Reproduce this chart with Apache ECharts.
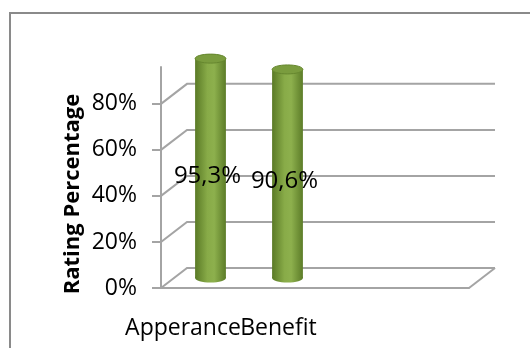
<!DOCTYPE html>
<html>
<head>
<meta charset="utf-8">
<script src="https://cdn.jsdelivr.net/npm/echarts@6/dist/echarts.min.js"></script>
<style>
  html, body { margin: 0; padding: 0; background: #fff; }
  #chart { width: 530px; height: 348px; }
</style>
</head>
<body>
<div id="chart"></div>
<script>
// Rating per aspect, drawn as 3D-style cylinders
const categories = ['Apperance', 'Benefit', '', ''];
const ratings = [95.3, 90.6];
const yTicks = [0, 20, 40, 60, 80];
const yTickLabels = ['0%', '20%', '40%', '60%', '80%'];
const yTitle = 'Rating Percentage';

const FONT = '"Open Sans", "Noto Sans", sans-serif';
const LINE = '#a4a4a4';
const DEPTH = [26, -20];        // back wall offset from the front plane
const MID = [11, -10];          // where the cylinders stand inside the floor

const chart = echarts.init(document.getElementById('chart'), null, { renderer: 'canvas' });

function fmt(v) {
  return v.toFixed(1).replace('.', ',') + '%';
}

// walls: back grid lines, side connectors, floor edges
function renderWall(params, api) {
  const cs = params.coordSys;
  const v = api.value(1);
  const y = api.coord([0, v])[1];
  const x0 = cs.x, x1 = cs.x + cs.width;
  const children = [{
    type: 'polyline',
    shape: { points: [[x0, y], [x0 + DEPTH[0], y + DEPTH[1]], [x1 + DEPTH[0], y + DEPTH[1]]] },
    style: { stroke: LINE, lineWidth: 2, fill: null }
  }];
  if (v === 0) {
    children.push({
      type: 'line',
      shape: { x1: x1, y1: y, x2: x1 + DEPTH[0], y2: y + DEPTH[1] },
      style: { stroke: LINE, lineWidth: 2 }
    });
  }
  return { type: 'group', children };
}

function renderCylinder(params, api) {
  const idx = api.value(0);
  const v = api.value(1);
  const base = api.coord([idx, 0]);
  const top = api.coord([idx, v]);
  const w = api.size([1, 0])[0] * 0.4;
  const rx = w / 2, ry = 4.5;
  const cx = base[0] + MID[0];
  const by = base[1] + MID[1];
  const ty = top[1] + MID[1];
  const body = new echarts.graphic.LinearGradient(0, 0, 1, 0, [
    { offset: 0, color: '#5a7a26' },
    { offset: 0.4, color: '#88ab48' },
    { offset: 0.62, color: '#8db04d' },
    { offset: 1, color: '#5c7c28' }
  ]);
  return {
    type: 'group',
    children: [
      { type: 'ellipse', shape: { cx: cx, cy: by, rx: rx, ry: ry }, style: { fill: body } },
      { type: 'rect', shape: { x: cx - rx, y: ty, width: w, height: by - ty }, style: { fill: body } },
      { type: 'ellipse', shape: { cx: cx, cy: ty, rx: rx, ry: ry },
        style: { fill: '#7a9c3e', stroke: '#66872f', lineWidth: 1 } },
      { type: 'text', x: base[0] + 8, y: (ty + by) / 2 + 7.5,
        style: { text: fmt(v), font: '24px ' + FONT, fill: '#000',
                 align: 'center', verticalAlign: 'middle' } }
    ]
  };
}

chart.setOption({
  animation: false,
  backgroundColor: '#fff',
  grid: { left: 161, right: 61, top: 67, bottom: 60 },
  xAxis: {
    type: 'category',
    data: categories,
    axisLine: { lineStyle: { color: LINE, width: 2 } },
    axisTick: { length: 5, lineStyle: { color: LINE, width: 2 } },
    axisLabel: {
      margin: 29,
      color: '#000',
      fontFamily: FONT,
      fontSize: 23,
      interval: 0,
      formatter: function (val, i) {
        if (i === 0) return '{a|' + val + '}';
        if (i === 1) return '{b|' + val + '}';
        return val;
      },
      rich: {
        a: { fontFamily: FONT, fontSize: 23, color: '#000', padding: [0, 33, 0, 0] },
        b: { fontFamily: FONT, fontSize: 23, color: '#000', padding: [0, 0, 0, 4] }
      }
    },
    splitLine: { show: false }
  },
  yAxis: {
    type: 'value',
    min: 0,
    max: 96,
    axisLine: { show: true, lineStyle: { color: LINE, width: 2 } },
    axisTick: { show: true, length: 9, customValues: yTicks, lineStyle: { color: LINE, width: 2 } },
    axisLabel: {
      customValues: yTicks,
      margin: 24,
      color: '#000',
      fontFamily: FONT,
      fontSize: 23,
      formatter: function (v) { return yTickLabels[yTicks.indexOf(v)]; }
    },
    splitLine: { show: false }
  },
  graphic: [
    { type: 'rect', shape: { x: 10, y: 13, width: 540, height: 360 },
      style: { fill: null, stroke: '#8a8a8a', lineWidth: 2 }, z: -10 },
    { type: 'text', x: 73, y: 194, rotation: Math.PI / 2,
      style: { text: yTitle, font: 'bold 22px ' + FONT, fill: '#000',
               align: 'center', verticalAlign: 'middle' } }
  ],
  series: [
    {
      type: 'custom',
      renderItem: renderWall,
      data: yTicks.map(v => [0, v]),
      silent: true,
      z: 1
    },
    {
      type: 'custom',
      renderItem: renderCylinder,
      data: ratings.map((v, i) => [i, v]),
      silent: true,
      z: 5
    }
  ]
});
</script>
</body>
</html>
